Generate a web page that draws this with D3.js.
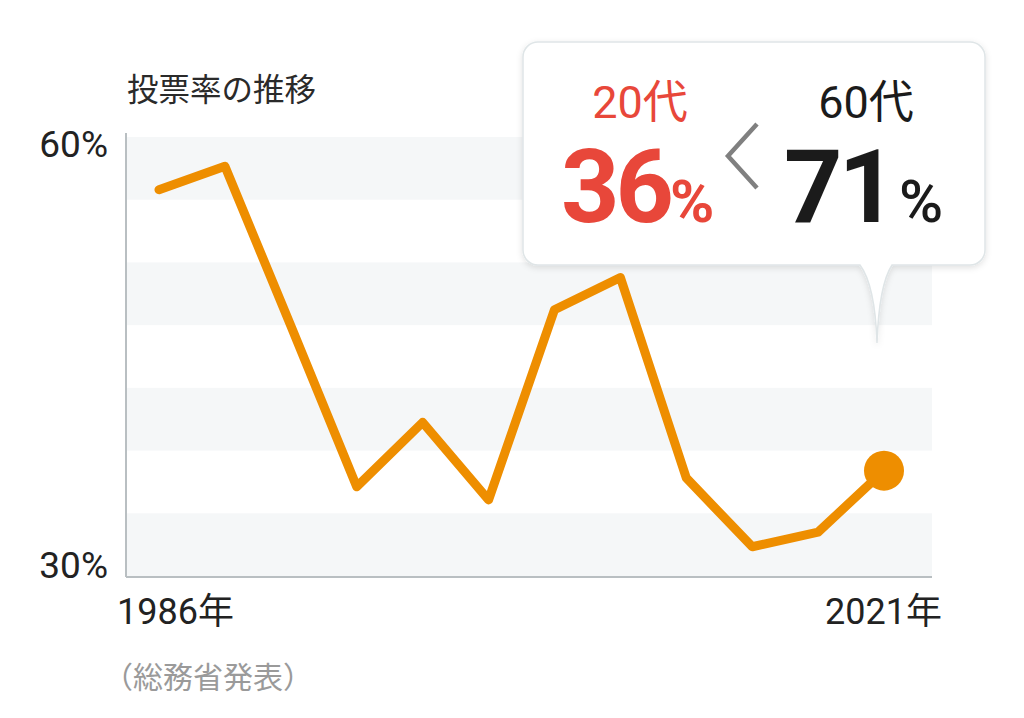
<!DOCTYPE html>
<html>
<head>
<meta charset="utf-8">
<script src="https://cdn.jsdelivr.net/npm/d3@7/dist/d3.min.js"></script>
<style>
  body { margin: 0; background: #fff; }
  svg { display: block; font-family: Roboto, "Noto Sans CJK JP", sans-serif; }
</style>
</head>
<body>
<svg id="chart" width="1024" height="718"></svg>
<script>
const years = [1986, 1990, 1993, 1996, 2000, 2003, 2005, 2009, 2012, 2014, 2017, 2021];
const turnout20s = [56.4, 58.0, 47.1, 36.1, 40.5, 35.2, 48.2, 50.4, 36.7, 32.0, 33.0, 37.2];
const yTicks = [30, 60];
const title = '投票率の推移';
const source = '（総務省発表）';
const compare = [
  { label: '20代', value: 36, color: '#e8473a' },
  { label: '60代', value: 71, color: '#1b1b1b' }
];

const plotLeft = 126, plotRight = 932, plotTop = 137, plotBottom = 576;
const orange = '#ee8e00';

const svg = d3.select('#chart');

const x = d3.scalePoint()
  .domain(years)
  .range([159, 884]);

const y = d3.scaleLinear()
  .domain([30, 60])
  .range([plotBottom, plotTop]);

// light stripes behind the plot
const band = d3.scaleBand()
  .domain(d3.range(7))
  .range([plotTop, plotBottom]);

svg.append('g')
  .selectAll('rect')
  .data(band.domain().filter(i => i % 2 === 0))
  .join('rect')
  .attr('x', plotLeft + 1)
  .attr('width', plotRight - plotLeft - 1)
  .attr('y', d => band(d))
  .attr('height', band.bandwidth())
  .attr('fill', '#f5f7f8');

// axis lines
svg.append('line')
  .attr('x1', plotLeft).attr('x2', plotLeft)
  .attr('y1', plotTop - 4).attr('y2', plotBottom + 1)
  .attr('stroke', '#b9bfc2').attr('stroke-width', 2);
svg.append('line')
  .attr('x1', plotLeft).attr('x2', plotRight)
  .attr('y1', plotBottom + 1).attr('y2', plotBottom + 1)
  .attr('stroke', '#b9bfc2').attr('stroke-width', 2);

// y tick labels
const yAxis = svg.append('g')
  .attr('transform', 'translate(' + (plotLeft - 18) + ',0)')
  .call(d3.axisLeft(y).tickValues(yTicks).tickSize(0).tickPadding(0).tickFormat(d => d + '%'));
yAxis.select('.domain').remove();
yAxis.selectAll('text')
  .attr('font-family', 'Roboto, "Noto Sans CJK JP", sans-serif')
  .attr('font-size', 37)
  .attr('fill', '#222')
  .attr('dy', d => d === 60 ? '0.53em' : '0.03em');

// title
svg.append('text')
  .attr('x', 127).attr('y', 101)
  .attr('font-size', 31.5)
  .attr('fill', '#2a2a2a')
  .text(title);

// x labels, first and last only
svg.append('text')
  .attr('x', x(years[0]) - 42).attr('y', 624)
  .attr('font-size', 36)
  .attr('fill', '#222')
  .text(years[0] + '年');
svg.append('text')
  .attr('x', x(years[years.length - 1]) + 58).attr('y', 624)
  .attr('text-anchor', 'end')
  .attr('font-size', 36)
  .attr('fill', '#222')
  .text(years[years.length - 1] + '年');

svg.append('text')
  .attr('x', 103).attr('y', 688)
  .attr('font-size', 30)
  .attr('fill', '#9a9a9a')
  .text(source);

// the line
const line = d3.line()
  .x((d, i) => x(years[i]))
  .y(d => y(d));

svg.append('path')
  .datum(turnout20s)
  .attr('d', line)
  .attr('fill', 'none')
  .attr('stroke', orange)
  .attr('stroke-width', 9)
  .attr('stroke-linejoin', 'round')
  .attr('stroke-linecap', 'round');

svg.append('circle')
  .attr('cx', x(years[years.length - 1]))
  .attr('cy', y(turnout20s[turnout20s.length - 1]))
  .attr('r', 20)
  .attr('fill', orange);

// callout bubble
const defs = svg.append('defs');
const f = defs.append('filter').attr('id', 'shadow')
  .attr('x', '-10%').attr('y', '-10%').attr('width', '120%').attr('height', '130%');
f.append('feDropShadow')
  .attr('dx', 0).attr('dy', 2).attr('stdDeviation', 3)
  .attr('flood-color', '#000').attr('flood-opacity', 0.12);

const bx = 523, by = 42, bw = 462, bh = 223, r = 15;
const tailL = 860, tailR = 892, tailX = 877, tailY = 343;
const bubble = d3.path();
bubble.moveTo(bx + r, by);
bubble.lineTo(bx + bw - r, by);
bubble.arcTo(bx + bw, by, bx + bw, by + r, r);
bubble.lineTo(bx + bw, by + bh - r);
bubble.arcTo(bx + bw, by + bh, bx + bw - r, by + bh, r);
bubble.lineTo(tailR, by + bh);
bubble.quadraticCurveTo(tailX + 2, by + bh + 20, tailX, tailY);
bubble.quadraticCurveTo(tailX - 2, by + bh + 20, tailL, by + bh);
bubble.lineTo(bx + r, by + bh);
bubble.arcTo(bx, by + bh, bx, by + bh - r, r);
bubble.lineTo(bx, by + r);
bubble.arcTo(bx, by, bx + r, by, r);
bubble.closePath();

svg.append('path')
  .attr('d', bubble.toString())
  .attr('fill', '#fff')
  .attr('stroke', '#dfe5e7')
  .attr('stroke-width', 1.5)
  .attr('filter', 'url(#shadow)');

// comparison text
const labelX = [640, 866];
compare.forEach((c, i) => {
  svg.append('text')
    .attr('x', labelX[i]).attr('y', 118)
    .attr('text-anchor', 'middle')
    .attr('font-size', 45)
    .attr('font-weight', 400)
    .attr('fill', c.color)
    .text(c.label);
});

const big = svg.append('text')
  .attr('x', 561).attr('y', 222)
  .attr('fill', compare[0].color)
  .attr('font-weight', 700);
big.append('tspan').attr('font-size', 102).attr('letter-spacing', -4).text(compare[0].value);
big.append('tspan').attr('font-size', 60).attr('dx', 0).text('%');

const big2 = svg.append('text')
  .attr('x', 784).attr('y', 222)
  .attr('fill', compare[1].color)
  .attr('font-weight', 700);
big2.append('tspan').attr('font-size', 102).attr('letter-spacing', -4).text(compare[1].value);
big2.append('tspan').attr('font-size', 60).attr('dx', 6).attr('font-weight', 500).text('%');

// "less than" chevron
svg.append('path')
  .attr('d', d3.line()([[757, 124], [728, 156], [757, 188]]))
  .attr('fill', 'none')
  .attr('stroke', '#808080')
  .attr('stroke-width', 4.5);
</script>
</body>
</html>
